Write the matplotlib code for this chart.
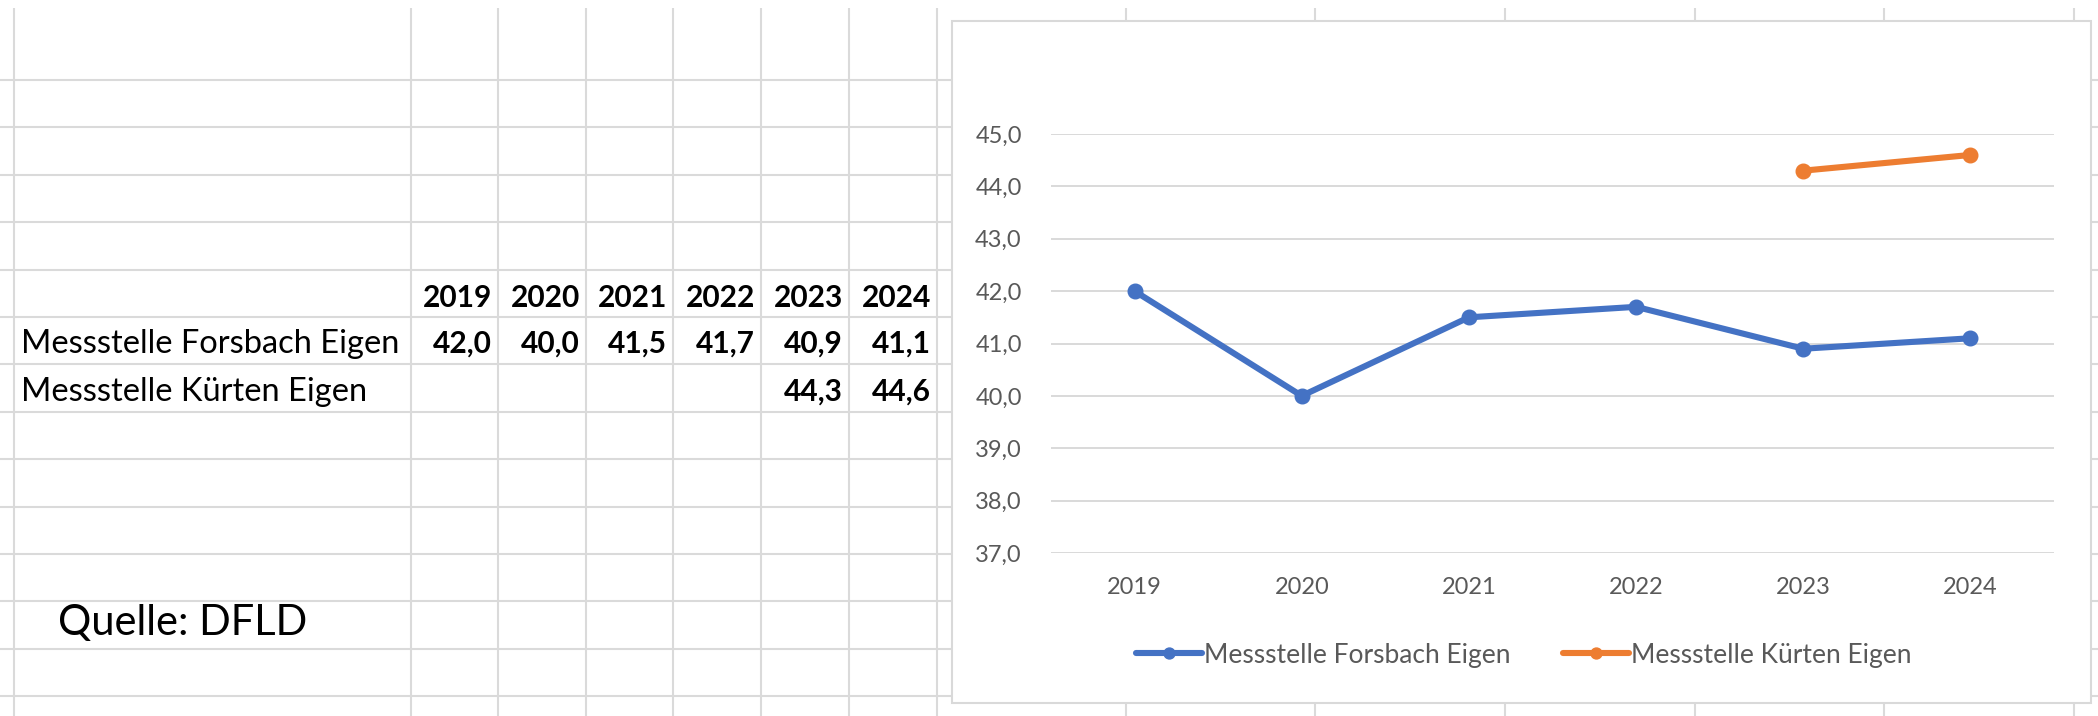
import matplotlib.pyplot as plt
import numpy as np
from matplotlib.patches import Rectangle
from matplotlib.ticker import FuncFormatter, MultipleLocator

# data
years = ['2019', '2020', '2021', '2022', '2023', '2024']
forsbach = [42.0, 40.0, 41.5, 41.7, 40.9, 41.1]
kuerten = [np.nan, np.nan, np.nan, np.nan, 44.3, 44.6]
names = ['Messstelle Forsbach Eigen', 'Messstelle Kürten Eigen']
source = 'Quelle: DFLD'

blue = '#4472C4'
orange = '#ED7D31'
grey_txt = '#595959'
cell_line = '#DADADA'

plt.rcParams['font.family'] = ['Lato', 'DejaVu Sans']

W, H = 2098, 716
fig = plt.figure(figsize=(W / 100, H / 100), dpi=100)
fig.patch.set_facecolor('white')

# spreadsheet background (pixel coordinates)
bg = fig.add_axes([0, 0, 1, 1])
bg.set_xlim(0, W)
bg.set_ylim(H, 0)
bg.axis('off')

row_lines = [80 + 47.4 * k for k in range(14)]
col_lines = [14, 411, 498, 586, 673, 761, 849, 937, 1126, 1315, 1505, 1695, 1884, 2074]
bg.hlines(row_lines, 0, W, color=cell_line, lw=1.5, zorder=1)
bg.vlines(col_lines, 8, H, color=cell_line, lw=1.5, zorder=1)

def fmt(v):
    return f'{v:.1f}'.replace('.', ',')

# table
for i, y in enumerate(years):
    bg.text(col_lines[i + 2] - 6, 307, y, ha='right', va='baseline',
            fontsize=21.5, fontweight='bold', color='black', zorder=2)
for r, (name, vals) in enumerate(zip(names, [forsbach, kuerten])):
    base = 353 + r * 48
    bg.text(21, base, name, ha='left', va='baseline', fontsize=23.5,
            color='black', zorder=2)
    for i, v in enumerate(vals):
        if not np.isnan(v):
            bg.text(col_lines[i + 2] - 6, base, fmt(v), ha='right',
                    va='baseline', fontsize=21.5, fontweight='bold',
                    color='black', zorder=2)

bg.text(58, 635, source, ha='left', va='baseline', fontsize=30,
        color='black', zorder=2)

# chart box
bg.add_patch(Rectangle((952, 21), 1139, 682, facecolor='white',
                       edgecolor='#D9D9D9', lw=1.5, zorder=3))

# chart
x0, x1, yt, yb = 1051, 2054, 134, 553
ax = fig.add_axes([x0 / W, 1 - yb / H, (x1 - x0) / W, (yb - yt) / H])
ax.set_zorder(5)
ax.patch.set_alpha(0)
xs = np.arange(len(years))
ax.plot(xs, forsbach, color=blue, lw=4.4, marker='o', ms=10.5,
        label=names[0], solid_capstyle='round', clip_on=False)
ax.plot(xs, kuerten, color=orange, lw=4.4, marker='o', ms=10.5,
        label=names[1], solid_capstyle='round', clip_on=False)
ax.set_xlim(-0.5, len(years) - 0.5)
ax.set_ylim(37, 45)
ax.set_xticks(xs)
ax.set_xticklabels(years)
ax.yaxis.set_major_locator(MultipleLocator(1))
ax.yaxis.set_major_formatter(FuncFormatter(lambda v, p: fmt(v)))
for s in ax.spines.values():
    s.set_visible(False)
ax.grid(axis='y', color='#D9D9D9', lw=1.4)
ax.set_axisbelow(True)
ax.tick_params(axis='both', length=0, labelsize=17, labelcolor=grey_txt)
ax.tick_params(axis='y', pad=21)
ax.tick_params(axis='x', pad=17)

ax.legend(loc='center', bbox_to_anchor=(1524 / W, 1 - 655 / H),
          bbox_transform=fig.transFigure, ncol=2, frameon=False,
          fontsize=19, labelcolor=grey_txt, handlelength=2.5,
          handletextpad=0.08, columnspacing=2.0, markerscale=0.75)

fig.savefig('out.png', dpi=100)
